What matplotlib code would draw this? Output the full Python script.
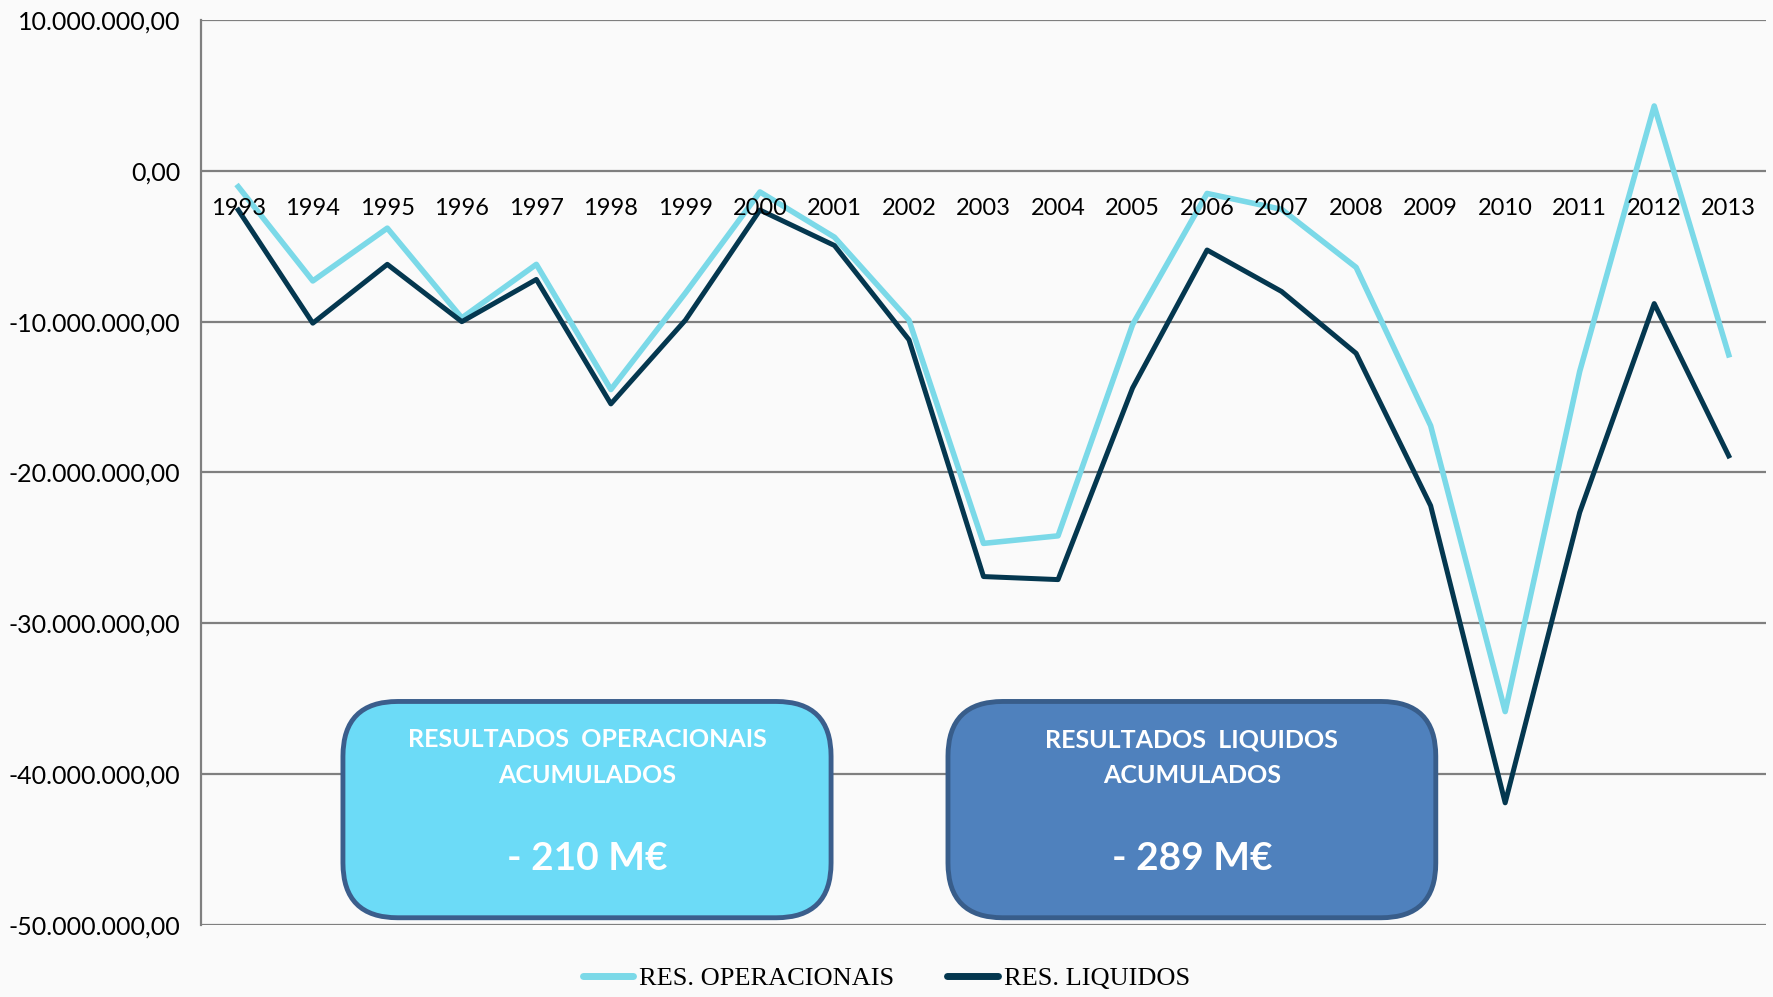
import matplotlib
matplotlib.use("Agg")
import matplotlib.pyplot as plt
from matplotlib.patches import FancyBboxPatch
from matplotlib.ticker import FuncFormatter

anos = ["1993", "1994", "1995", "1996", "1997", "1998", "1999", "2000", "2001", "2002", "2003",
        "2004", "2005", "2006", "2007", "2008", "2009", "2010", "2011", "2012", "2013"]
res_operacionais = [-1.05e6, -7.3e6, -3.8e6, -9.75e6, -6.2e6, -14.5e6, -8.1e6, -1.4e6, -4.4e6, -9.9e6, -24.7e6,
                    -24.2e6, -10.2e6, -1.5e6, -2.55e6, -6.4e6, -16.9e6, -35.85e6, -13.3e6, 4.3e6, -12.2e6]
res_liquidos = [-2.6e6, -10.1e6, -6.2e6, -10.0e6, -7.2e6, -15.45e6, -9.9e6, -2.6e6, -4.95e6, -11.2e6, -26.9e6,
                -27.1e6, -14.4e6, -5.25e6, -8.0e6, -12.1e6, -22.2e6, -41.9e6, -22.65e6, -8.8e6, -18.9e6]
caixas = [("RESULTADOS  OPERACIONAIS\nACUMULADOS", "- 210 M€"),
          ("RESULTADOS  LIQUIDOS\nACUMULADOS", "- 289 M€")]

cor_op = "#7BD9E8"
cor_liq = "#04374F"

fig = plt.figure(figsize=(17.73, 9.97), dpi=100)
fig.patch.set_facecolor("#FAFAFA")
ax = fig.add_axes([201/1773, 1 - 925/997, 1565/1773, 905/997])
ax.set_facecolor("none")

x = list(range(len(anos)))
ax.plot(x, res_operacionais, color=cor_op, lw=4.0, label="RES. OPERACIONAIS", zorder=3)
ax.plot(x, res_liquidos, color=cor_liq, lw=3.6, label="RES. LIQUIDOS", zorder=3)

ax.set_xlim(-0.5, len(anos) - 0.5)
ax.set_ylim(-50e6, 10e6)
ax.set_yticks(range(-50000000, 10000001, 10000000))

def fmt(v, pos):
    s = "{:,.2f}".format(v)
    return s.replace(",", "X").replace(".", ",").replace("X", ".")

ax.yaxis.set_major_formatter(FuncFormatter(fmt))
ax.tick_params(axis="y", length=0, pad=15, labelsize=18)
for lab in ax.get_yticklabels():
    lab.set_fontfamily("Lato")
ax.grid(axis="y", color="#7F7F7F", lw=1.6, zorder=1)

ax.set_xticks([])
for i, a in enumerate(anos):
    ax.text(i, -1.8e6, a, ha="center", va="top", fontsize=17, family="Lato", zorder=4)

for s in ["top", "right", "bottom"]:
    ax.spines[s].set_visible(False)
ax.spines["left"].set_color("#7F7F7F")
ax.spines["left"].set_linewidth(1.6)

box_pos = [(0.0907, 0.4026), (0.4773, 0.789)]
box_cores = [("#6CDBF7", "#3B5E8C"), ("#4F81BD", "#385D8A")]
for (titulo, valor), (x0, x1), (fc, ec) in zip(caixas, box_pos, box_cores):
    y0, y1 = 0.008, 0.247
    p = FancyBboxPatch((x0, y0), x1 - x0, y1 - y0, boxstyle="round,pad=0,rounding_size=0.035",
                       transform=ax.transAxes, facecolor=fc, edgecolor=ec, lw=3.5, zorder=5,
                       mutation_aspect=1565/905)
    ax.add_patch(p)
    cx = (x0 + x1) / 2
    ax.text(cx, 0.185, titulo, transform=ax.transAxes, ha="center", va="center", color="white",
            fontsize=18, fontweight="bold", family="Lato", linespacing=1.65, zorder=6)
    ax.text(cx, 0.074, valor, transform=ax.transAxes, ha="center", va="center", color="white",
            fontsize=28, fontweight="bold", family="Lato", zorder=6)

leg = fig.legend(loc="center", bbox_to_anchor=(0.5, 1 - 978/997), ncol=2, frameon=False,
                 prop={"family": "Liberation Serif", "size": 19}, handlelength=1.9,
                 handletextpad=0.25, columnspacing=2.0)
for h in leg.get_lines():
    h.set_linewidth(5)
    h.set_solid_capstyle("round")

fig.savefig("out.png", dpi=100, facecolor=fig.get_facecolor())
